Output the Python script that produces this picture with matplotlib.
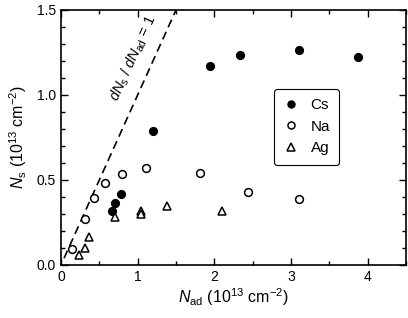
import matplotlib
matplotlib.use("Agg")
import matplotlib.pyplot as plt
from matplotlib.ticker import MultipleLocator

plt.rcParams['font.family'] = ['Liberation Sans', 'DejaVu Sans']
plt.rcParams['mathtext.fontset'] = 'custom'
plt.rcParams['mathtext.rm'] = 'Liberation Sans'
plt.rcParams['mathtext.it'] = 'Liberation Sans:italic'

# data (units of 1e13 cm^-2)
cs_nad = [0.66, 0.71, 0.78, 1.20, 1.95, 2.33, 3.10, 3.88]
cs_ns = [0.32, 0.367, 0.42, 0.79, 1.17, 1.236, 1.265, 1.225]

na_nad = [0.15, 0.31, 0.43, 0.58, 0.79, 1.11, 1.81, 2.44, 3.11]
na_ns = [0.095, 0.27, 0.392, 0.48, 0.535, 0.568, 0.54, 0.428, 0.389]

ag_nad = [0.24, 0.31, 0.36, 0.70, 1.04, 1.045, 1.38, 2.10]
ag_ns = [0.06, 0.10, 0.165, 0.28, 0.32, 0.30, 0.345, 0.32]

slope_x = [0.04, 1.5]

fig = plt.figure(figsize=(4.08, 3.18), dpi=100)
ax = fig.add_axes([0.1495, 0.1667, 0.8455, 0.802])

ax.plot(slope_x, slope_x, color='black', lw=1.2, ls=(0, (5, 3)))
ax.text(0.95, 1.215, r'$dN_{\rm s}$ / $dN_{\rm ad}$ = 1', rotation=65.5,
        ha='center', va='center', fontsize=10.5)

ax.plot(cs_nad, cs_ns, 'o', ms=5.6, mfc='black', mec='black', mew=1.0, label='Cs')
ax.plot(na_nad, na_ns, 'o', ms=5.6, mfc='white', mec='black', mew=1.1, label='Na')
ax.plot(ag_nad, ag_ns, '^', ms=6.2, mfc='white', mec='black', mew=1.1, label='Ag')

leg = ax.legend(loc='upper left', bbox_to_anchor=(0.617, 0.69), fontsize=11,
                markerscale=0.9, handlelength=1.0, handletextpad=0.8,
                borderpad=0.6, labelspacing=0.5, borderaxespad=0,
                fancybox=True, framealpha=1)
leg.get_frame().set_edgecolor('black')
leg.get_frame().set_linewidth(0.8)

ax.set_xlim(0, 4.5)
ax.set_ylim(0, 1.5)
ax.xaxis.set_major_locator(MultipleLocator(1))
ax.xaxis.set_minor_locator(MultipleLocator(0.5))
ax.yaxis.set_major_locator(MultipleLocator(0.5))
ax.yaxis.set_minor_locator(MultipleLocator(0.1))
ax.yaxis.set_major_formatter(plt.FormatStrFormatter('%.1f'))
ax.tick_params(which='both', direction='in', top=True, right=True, labelsize=10, width=1.0)
ax.tick_params(which='major', length=5)
ax.tick_params(which='minor', length=3)
for s in ax.spines.values():
    s.set_linewidth(1.2)

ax.set_xlabel(r'$N_{\rm ad}$ (10$^{13}$ cm$^{-2}$)', fontsize=11.5, labelpad=2)
ax.set_ylabel(r'$N_{\rm s}$ (10$^{13}$ cm$^{-2}$)', fontsize=11.5, labelpad=6)

fig.savefig('out.png', dpi=100)
